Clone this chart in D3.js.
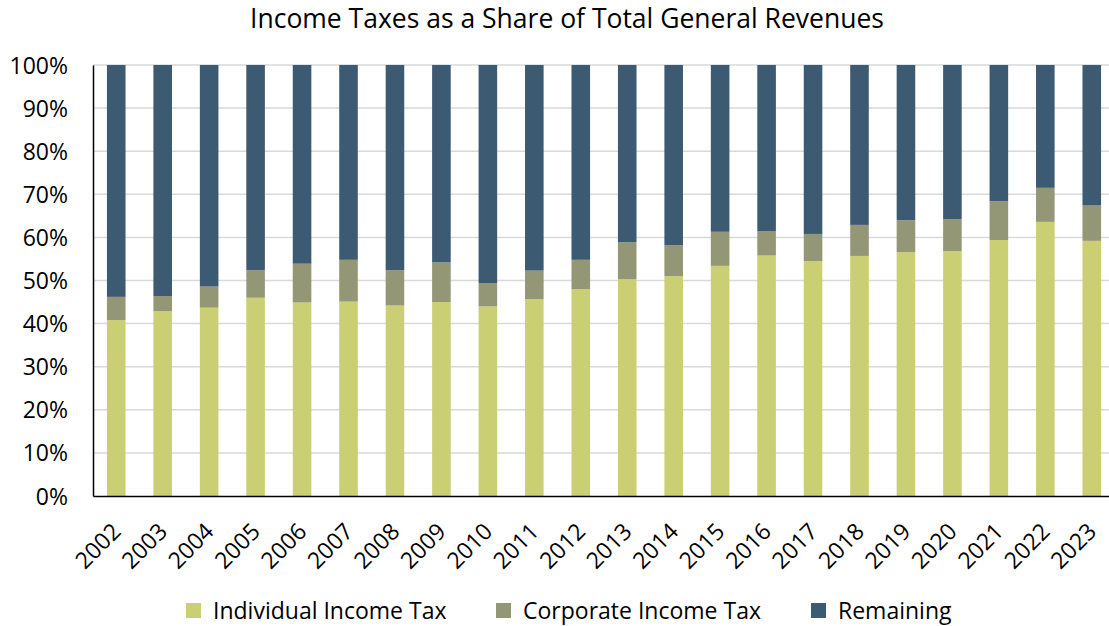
<!DOCTYPE html>
<html>
<head>
<meta charset="utf-8">
<script src="https://cdn.jsdelivr.net/npm/d3@7"></script>
<style>
  body { margin: 0; background: #fff; }
  #chart { width: 1109px; height: 626px; }
  text { font-family: "Open Sans", "Noto Sans", sans-serif; fill: #000; }
</style>
</head>
<body>
<div id="chart"></div>
<script>
// values (percent of total general revenues)
const years = ['2002', '2003', '2004', '2005', '2006', '2007', '2008', '2009', '2010', '2011', '2012',
    '2013', '2014', '2015', '2016', '2017', '2018', '2019', '2020', '2021', '2022', '2023'];
const individual = [40.8, 42.9, 43.7, 46.0, 44.9, 45.1, 44.2, 45.0, 44.0, 45.7, 48.0,
    50.3, 51.0, 53.4, 55.8, 54.5, 55.7, 56.6, 56.8, 59.4, 63.6, 59.2];
const corporate = [5.4, 3.5, 4.9, 6.4, 9.0, 9.7, 8.2, 9.2, 5.4, 6.6, 6.8,
    8.6, 7.2, 7.9, 5.6, 6.3, 7.2, 7.4, 7.4, 9.0, 7.9, 8.2];
const remaining = years.map((y, i) => +(100 - individual[i] - corporate[i]).toFixed(1));
const seriesNames = ['Individual Income Tax', 'Corporate Income Tax', 'Remaining'];
const yTicks = [0, 10, 20, 30, 40, 50, 60, 70, 80, 90, 100];

const W = 1109, H = 626;
const margin = { top: 65, right: -6, bottom: 130, left: 93 },
    width = W - margin.left - margin.right,
    height = H - margin.top - margin.bottom;

const svg = d3.select("#chart")
    .append("svg")
    .attr("width", W)
    .attr("height", H);

const color = d3.scaleOrdinal()
    .domain(seriesNames)
    .range(['#cbcf73', '#939775', '#3d5a73']);

// title
svg.append("text")
    .attr("x", 567)
    .attr("y", 28)
    .attr("text-anchor", "middle")
    .style("font-size", "26.5px")
    .text("Income Taxes as a Share of Total General Revenues");

const g = svg.append("g")
    .attr("transform", `translate(${margin.left}, ${margin.top})`);

const x = d3.scaleBand()
    .domain(years)
    .range([0, width])
    .paddingInner(0.6)
    .paddingOuter(0.3);

const y = d3.scaleLinear()
    .domain([0, 100])
    .range([height, 0]);

// gridlines
g.append("g")
    .selectAll("line")
    .data(yTicks.filter(d => d > 0))
    .join("line")
    .attr("x1", 0)
    .attr("x2", width)
    .attr("y1", d => y(d))
    .attr("y2", d => y(d))
    .attr("stroke", "#d9d9d9")
    .attr("stroke-width", 1.5);

// stacked bars
const rows = years.map((yr, i) => ({
    year: yr,
    'Individual Income Tax': individual[i],
    'Corporate Income Tax': corporate[i],
    'Remaining': remaining[i]
}));
const stacked = d3.stack().keys(seriesNames)(rows);

g.append("g")
    .selectAll("g")
    .data(stacked)
    .join("g")
    .attr("fill", d => color(d.key))
    .selectAll("rect")
    .data(d => d)
    .join("rect")
    .attr("x", d => x(d.data.year))
    .attr("y", d => y(d[1]))
    .attr("width", x.bandwidth())
    .attr("height", d => y(d[0]) - y(d[1]));

// y axis
const yAxis = g.append("g")
    .call(d3.axisLeft(y).tickValues(yTicks).tickFormat(d => d + "%").tickSize(0).tickPadding(25));
yAxis.select(".domain").attr("stroke", "#000").attr("stroke-width", 1.5);
yAxis.selectAll("text").style("font-size", "23px").attr("dy", "0.35em");

// x axis
const xAxis = g.append("g")
    .attr("transform", `translate(0, ${height})`)
    .call(d3.axisBottom(x).tickSize(0).tickPadding(0));
xAxis.select(".domain").attr("stroke", "#000").attr("stroke-width", 1.5);
xAxis.selectAll("text")
    .style("font-size", "23px")
    .attr("text-anchor", "end")
    .attr("dy", "0")
    .attr("transform", "translate(6, 37) rotate(-45)");

// legend
const legendX = [186, 496, 811];
const legend = svg.append("g")
    .selectAll("g")
    .data(seriesNames)
    .join("g")
    .attr("transform", (d, i) => `translate(${legendX[i]}, 603)`);
legend.append("rect")
    .attr("width", 15)
    .attr("height", 15)
    .attr("fill", d => color(d));
legend.append("text")
    .attr("x", 27)
    .attr("y", 8)
    .attr("dy", "0.35em")
    .style("font-size", "23px")
    .text(d => d);
</script>
</body>
</html>
